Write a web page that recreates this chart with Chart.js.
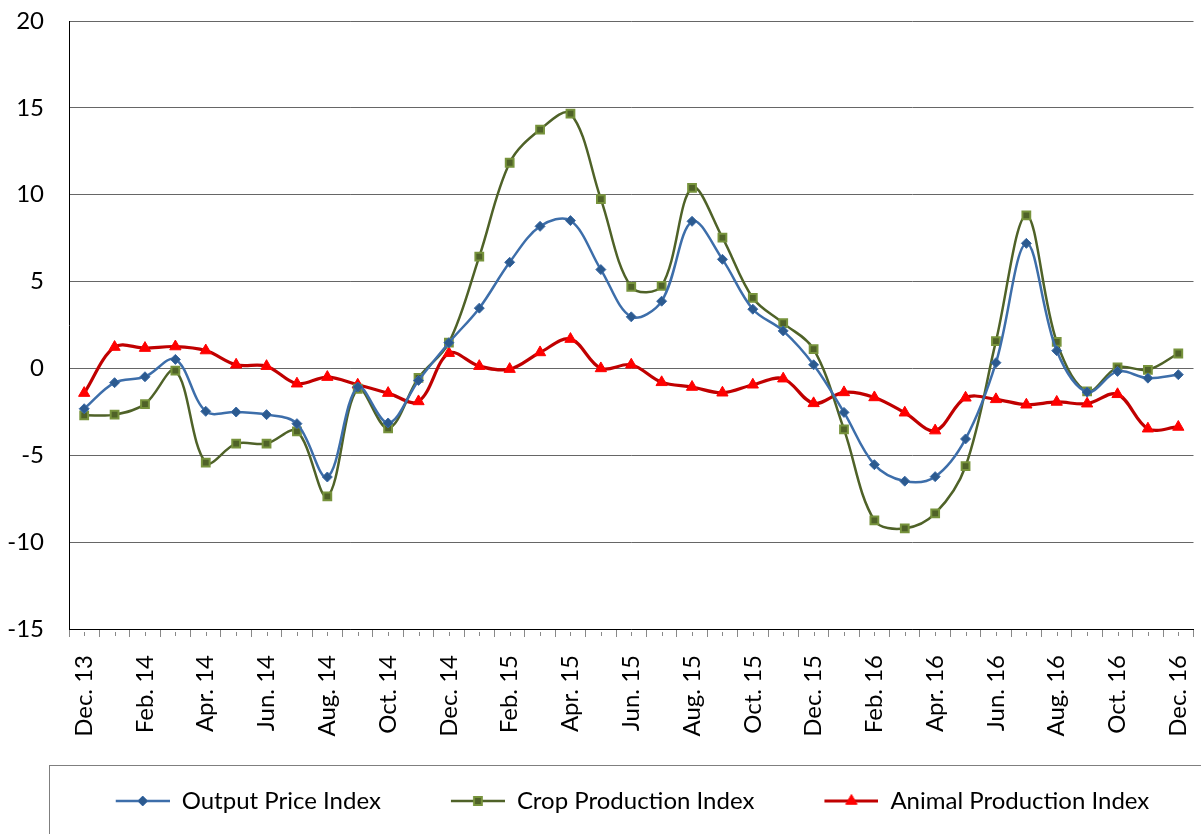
<!DOCTYPE html>
<html>
<head>
<meta charset="utf-8">
<title>Output price, crop and animal production indices</title>
<script src="https://cdn.jsdelivr.net/npm/chart.js@4.4.1/dist/chart.umd.min.js"></script>
<style>
    html, body { margin: 0; padding: 0; background: #fff; }
</style>
</head>
<body>
<canvas id="indexChart" width="1201" height="834"></canvas>
<script>
// Monthly categories, Dec. 13 to Dec. 16 (only every other one gets a label)
const months = [
    "Dec. 13", "Jan. 14", "Feb. 14", "Mar. 14", "Apr. 14", "May 14", "Jun. 14", "Jul. 14",
    "Aug. 14", "Sep. 14", "Oct. 14", "Nov. 14", "Dec. 14", "Jan. 15", "Feb. 15", "Mar. 15",
    "Apr. 15", "May 15", "Jun. 15", "Jul. 15", "Aug. 15", "Sep. 15", "Oct. 15", "Nov. 15",
    "Dec. 15", "Jan. 16", "Feb. 16", "Mar. 16", "Apr. 16", "May 16", "Jun. 16", "Jul. 16",
    "Aug. 16", "Sep. 16", "Oct. 16", "Nov. 16", "Dec. 16"
];

// Series values
const outputPrice = [
    -2.32, -0.82, -0.48, 0.52, -2.47, -2.51, -2.66, -3.18, -6.25, -1.07, -3.14, -0.69,
    1.48, 3.47, 6.11, 8.18, 8.51, 5.69, 2.97, 3.87, 8.47, 6.28, 3.41, 2.16,
    0.21, -2.53, -5.54, -6.49, -6.23, -4.06, 0.33, 7.20, 1.02, -1.36, -0.17, -0.56, -0.36
];
const cropProduction = [
    -2.70, -2.66, -2.05, -0.13, -5.42, -4.33, -4.33, -3.62, -7.36, -1.17, -3.45, -0.54,
    1.48, 6.44, 11.84, 13.75, 14.67, 9.75, 4.69, 4.75, 10.40, 7.53, 4.06, 2.61,
    1.11, -3.51, -8.75, -9.21, -8.35, -5.63, 1.57, 8.81, 1.53, -1.32, 0.06, -0.08, 0.86
];
const animalProduction = [
    -1.42, 1.23, 1.17, 1.26, 1.03, 0.21, 0.13, -0.88, -0.50, -0.94, -1.42, -1.90,
    0.88, 0.13, -0.04, 0.92, 1.69, 0.00, 0.21, -0.80, -1.07, -1.40, -0.94, -0.59,
    -2.01, -1.38, -1.67, -2.55, -3.58, -1.69, -1.78, -2.09, -1.93, -2.03, -1.49, -3.47, -3.37
];

// Y axis range
const yMin = -15;
const yMax = 20;
const yStep = 5;

const seriesNames = ["Output Price Index", "Crop Production Index", "Animal Production Index"];

const font = { family: "Lato, 'Liberation Sans', sans-serif", size: 24 };

// Legend symbol: blank gap on the left (spacing between entries), then line + marker
const legendGap = 64;
const legendLine = 54;

function legendSymbol(lineColor, lineWidth, marker) {
    const c = document.createElement('canvas');
    c.width = legendGap + legendLine;
    c.height = 18;
    const g = c.getContext('2d');
    g.strokeStyle = lineColor;
    g.lineWidth = lineWidth;
    g.beginPath();
    g.moveTo(legendGap, 9);
    g.lineTo(legendGap + legendLine, 9);
    g.stroke();
    g.fillStyle = marker.fill;
    g.strokeStyle = marker.border;
    g.lineWidth = marker.borderWidth;
    Chart.helpers.drawPoint(g, {
        pointStyle: marker.style,
        radius: marker.radius,
        borderWidth: marker.borderWidth,
        rotation: 0
    }, legendGap + legendLine / 2, 9);
    return c;
}

const markers = [
    { style: 'rectRot', radius: 5, fill: '#2C5A8F', border: '#3A6AA6', borderWidth: 1 },
    { style: 'rect', radius: 5.5, fill: '#4F6228', border: '#77933C', borderWidth: 2 },
    { style: 'triangle', radius: 6.5, fill: '#FF0000', border: '#FF0000', borderWidth: 1 }
];
const lineColors = ['#3D6EAA', '#4F6228', '#C00000'];
const lineWidths = [2.5, 2.5, 3.2];
const symbols = markers.map((m, i) => legendSymbol(lineColors[i], lineWidths[i], m));

// short ticks at the category centres plus the frame round the legend
const extras = {
    id: 'extras',
    afterDraw(chart) {
        const ctx = chart.ctx;
        const x = chart.scales.x;
        ctx.save();
        ctx.strokeStyle = '#888';
        ctx.lineWidth = 1;
        ctx.beginPath();
        months.forEach((m, i) => {
            const px = Math.round(x.getPixelForValue(i)) + 0.5;
            ctx.moveTo(px, x.top + 3);
            ctx.lineTo(px, x.top + 7);
        });
        ctx.stroke();
        ctx.strokeStyle = '#7F7F7F';
        ctx.strokeRect(49.5, 765.5, 1200, 120);
        ctx.restore();
    }
};

const ctx = document.getElementById('indexChart').getContext('2d');

const indexChart = new Chart(ctx, {
    type: 'line',
    data: {
        labels: months,
        datasets: [outputPrice, cropProduction, animalProduction].map((values, i) => ({
            label: seriesNames[i],
            data: values,
            borderColor: lineColors[i],
            borderWidth: lineWidths[i],
            tension: 0.35,
            pointStyle: markers[i].style,
            pointRadius: markers[i].radius,
            pointBackgroundColor: markers[i].fill,
            pointBorderColor: markers[i].border,
            pointBorderWidth: markers[i].borderWidth,
            fill: false
        }))
    },
    options: {
        responsive: false,
        animation: false,
        devicePixelRatio: 1,
        layout: { padding: { left: 0, top: 21, right: 0, bottom: 11 } },
        scales: {
            x: {
                offset: true,
                grid: {
                    offset: true,
                    drawOnChartArea: false,
                    drawTicks: true,
                    tickLength: 8,
                    color: '#888'
                },
                border: { color: '#000', width: 1 },
                ticks: {
                    autoSkip: false,
                    minRotation: 90,
                    maxRotation: 90,
                    padding: 18,
                    color: '#000',
                    font: font,
                    callback: (value, index) => index % 2 === 0 ? months[index] : ''
                },
                afterFit(scale) {
                    scale.height = 154;
                    scale.paddingLeft = 0;
                    scale.paddingRight = 0;
                }
            },
            y: {
                min: yMin,
                max: yMax,
                grid: { color: '#666', drawTicks: false },
                border: { color: '#000', width: 1 },
                ticks: {
                    stepSize: yStep,
                    padding: 25,
                    color: '#000',
                    font: font
                },
                afterFit(scale) {
                    scale.width = 69;
                    scale.paddingTop = 0;
                    scale.paddingBottom = 0;
                }
            }
        },
        plugins: {
            legend: {
                display: true,
                position: 'bottom',
                labels: {
                    usePointStyle: true,
                    pointStyleWidth: legendGap + legendLine,
                    padding: 6,
                    color: '#000',
                    font: font,
                    generateLabels: (chart) => chart.data.datasets.map((ds, i) => ({
                        text: ds.label,
                        pointStyle: symbols[i],
                        datasetIndex: i,
                        hidden: false,
                        lineWidth: 0,
                        fillStyle: 'transparent',
                        strokeStyle: 'transparent'
                    }))
                }
            },
            tooltip: { enabled: false }
        }
    },
    plugins: [extras]
});
</script>
</body>
</html>
